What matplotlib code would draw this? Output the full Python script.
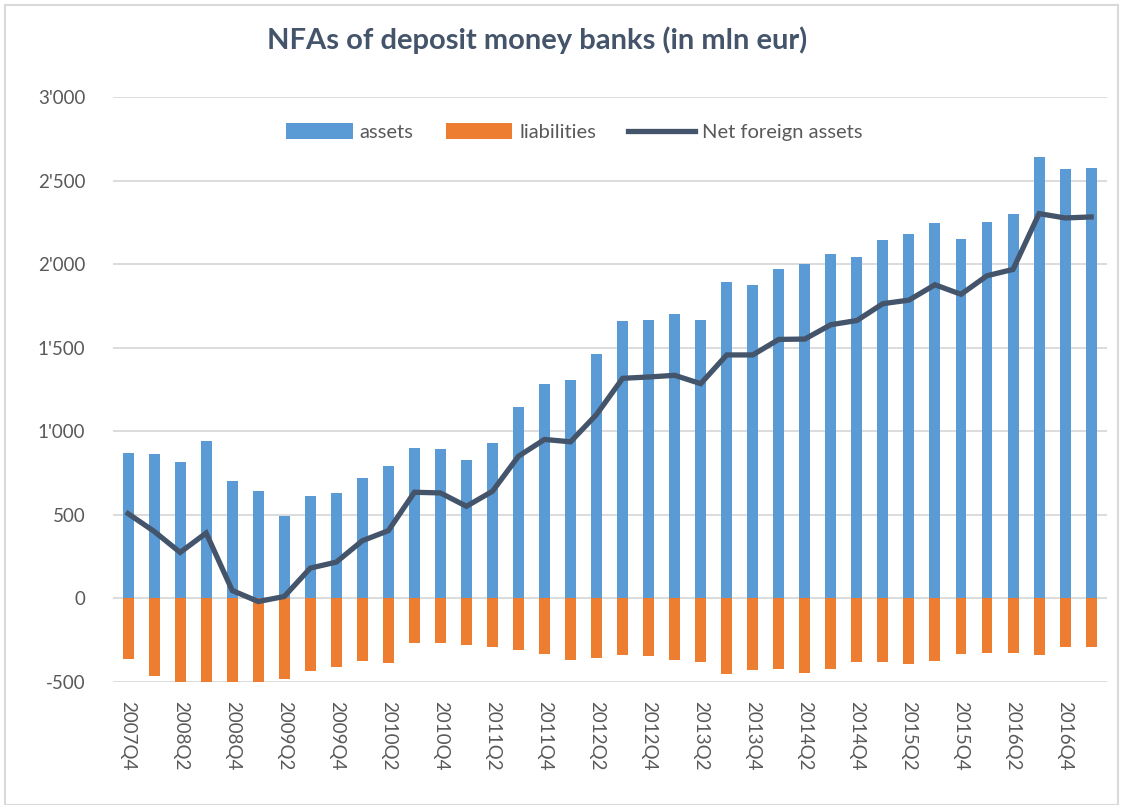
import matplotlib
matplotlib.use("Agg")
import matplotlib.pyplot as plt
from matplotlib.patches import Rectangle, Patch
from matplotlib.lines import Line2D
from matplotlib.ticker import FuncFormatter

quarters = ["2007Q4"] + [f"{y}Q{q}" for y in range(2008, 2017) for q in range(1, 5)] + ["2017Q1"]

assets = [866, 862, 816, 940, 702, 640, 494, 612, 628, 718, 792, 900, 894,
          830, 930, 1144, 1284, 1308, 1460, 1660, 1668, 1702, 1664, 1895, 1877,
          1968, 1998, 2058, 2041, 2143, 2178, 2244, 2152, 2254, 2299, 2639, 2569, 2577]
liabilities = [-362, -464, -542, -550, -656, -660, -486, -434, -410, -378, -390, -268, -268,
               -282, -292, -310, -334, -372, -356, -342, -348, -372, -382, -452, -430,
               -423, -449, -421, -383, -385, -397, -376, -333, -329, -327, -338, -295, -295]
net_foreign_assets = [506, 400, 274, 390, 46, -20, 10, 180, 216, 344, 404, 634, 630,
                      550, 640, 850, 950, 936, 1100, 1316, 1324, 1334, 1284, 1456, 1456,
                      1549, 1551, 1637, 1662, 1763, 1784, 1876, 1819, 1930, 1968, 2302, 2276, 2282]

BLUE = "#5B9BD5"
ORANGE = "#ED7D31"
DARK = "#44546A"
GREY = "#595959"
FONT = ["Lato", "DejaVu Sans"]
plt.rcParams["font.family"] = FONT

fig = plt.figure(figsize=(11.23, 8.05), dpi=100)
fig.patch.set_facecolor("white")
fig.add_artist(Rectangle((5 / 1123, 0.0), 1113 / 1123, 1 - 5 / 805, transform=fig.transFigure,
                         facecolor="white", edgecolor="#D9D9D9", linewidth=1.5, zorder=-5))

ax = fig.add_axes([113 / 1123, 1 - 681.7 / 805, (1107 - 113) / 1123, (681.7 - 97) / 805])
x = list(range(len(quarters)))
ax.bar(x, assets, width=0.42, color=BLUE, zorder=2)
ax.bar(x, liabilities, width=0.42, color=ORANGE, zorder=2)
ax.plot(x, net_foreign_assets, color=DARK, linewidth=3.8, zorder=3, solid_joinstyle="miter")

ax.set_ylim(-500, 3000)
ax.set_xlim(-0.58, 37.61)
ax.set_yticks(range(-500, 3001, 500))
ax.yaxis.set_major_formatter(FuncFormatter(lambda v, p: f"{int(v):,}".replace(",", "'")))
ax.grid(axis="y", color="#D9D9D9", linewidth=1.3, zorder=0)
ax.set_axisbelow(True)
for s in ax.spines.values():
    s.set_visible(False)
ax.set_xticks(x[::2])
ax.set_xticklabels(quarters[::2], rotation=-90, fontsize=13.5, color=GREY)
ax.tick_params(axis="x", length=0, pad=14)
ax.tick_params(axis="y", length=0, pad=20, labelsize=13.5, labelcolor=GREY)

handles = [Patch(facecolor=BLUE), Patch(facecolor=ORANGE), Line2D([0], [0], color=DARK, linewidth=3.8)]
ax.legend(handles, ["assets", "liabilities", "Net foreign assets"], loc="center",
          bbox_to_anchor=(0.464, 0.94), ncol=3, frameon=False, fontsize=14.5,
          labelcolor=GREY, handlelength=3.3, handleheight=0.8, columnspacing=1.6, handletextpad=0.35)

fig.text(0.478, 1 - 40 / 805, "NFAs of deposit money banks (in mln eur)", ha="center", va="center",
         fontsize=21, fontweight="bold", color=DARK)

fig.savefig("out.png", dpi=100, facecolor=fig.get_facecolor())
